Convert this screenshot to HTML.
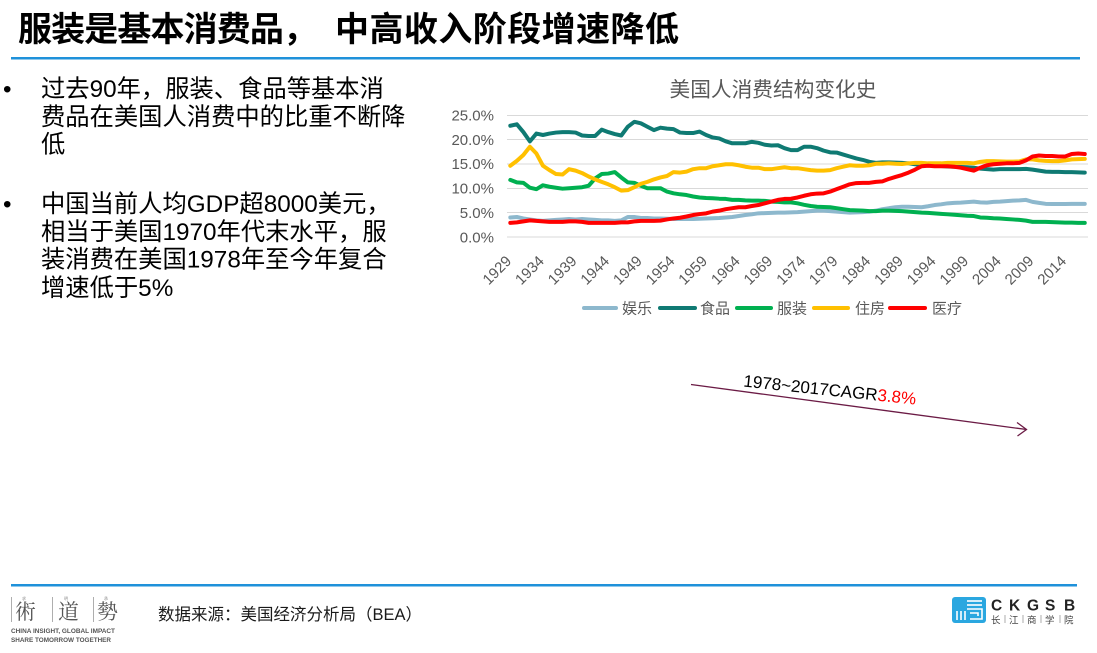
<!DOCTYPE html>
<html>
<head>
<meta charset="utf-8">
<style>
html,body{margin:0;padding:0;background:#fff;}
body{width:1097px;height:653px;overflow:hidden;}
svg{display:block;}
.t{font-family:"Liberation Sans","Noto Sans CJK SC",sans-serif;}
</style>
</head>
<body>
<svg width="1097" height="653" viewBox="0 0 1097 653" xmlns="http://www.w3.org/2000/svg">
  <!-- Title -->
  <text class="t" font-weight="bold" font-size="34" fill="#000" y="41">
    <tspan x="18" textLength="299" lengthAdjust="spacing">服装是基本消费品，</tspan><tspan x="335" textLength="344" lengthAdjust="spacing">中高收入阶段增速降低</tspan>
  </text>
  <rect x="11" y="57" width="1069" height="2.5" fill="#1F91DA"/>

  <!-- Bullets -->
  <g class="t" font-size="24.3" fill="#000">
    <text x="3" y="97">•</text>
    <text x="41" y="97">过去90年，服装、食品等基本消</text>
    <text x="41" y="125">费品在美国人消费中的比重不断降</text>
    <text x="41" y="152.5">低</text>
    <text x="3" y="212">•</text>
    <text x="41" y="212">中国当前人均GDP超8000美元，</text>
    <text x="41" y="240">相当于美国1970年代末水平，服</text>
    <text x="41" y="267.5">装消费在美国1978年至今年复合</text>
    <text x="41" y="296">增速低于5%</text>
  </g>

  <!-- Chart title -->
  <text class="t" x="773" y="96.5" font-size="20.7" fill="#595959" text-anchor="middle">美国人消费结构变化史</text>

  <!-- Gridlines -->
  <g stroke="#D9D9D9" stroke-width="1">
    <line x1="507" x2="1088" y1="115.5" y2="115.5"/>
    <line x1="507" x2="1088" y1="139.5" y2="139.5"/>
    <line x1="507" x2="1088" y1="164" y2="164"/>
    <line x1="507" x2="1088" y1="188.5" y2="188.5"/>
    <line x1="507" x2="1088" y1="212.5" y2="212.5"/>
    <line x1="507" x2="1088" y1="237" y2="237"/>
  </g>

  <!-- Y labels -->
  <g class="t" font-size="15" fill="#595959" text-anchor="end">
    <text x="494" y="120.5">25.0%</text>
    <text x="494" y="144.8">20.0%</text>
    <text x="494" y="169.2">15.0%</text>
    <text x="494" y="193.6">10.0%</text>
    <text x="494" y="218">5.0%</text>
    <text x="494" y="242.4">0.0%</text>
  </g>

  <!-- X labels -->
  <g class="t" font-size="15" fill="#595959" text-anchor="end">
    <text transform="translate(512.3,262) rotate(-45)">1929</text>
    <text transform="translate(544.9,262) rotate(-45)">1934</text>
    <text transform="translate(577.6,262) rotate(-45)">1939</text>
    <text transform="translate(610.2,262) rotate(-45)">1944</text>
    <text transform="translate(642.9,262) rotate(-45)">1949</text>
    <text transform="translate(675.5,262) rotate(-45)">1954</text>
    <text transform="translate(708.1,262) rotate(-45)">1959</text>
    <text transform="translate(740.8,262) rotate(-45)">1964</text>
    <text transform="translate(773.4,262) rotate(-45)">1969</text>
    <text transform="translate(806.1,262) rotate(-45)">1974</text>
    <text transform="translate(838.7,262) rotate(-45)">1979</text>
    <text transform="translate(871.3,262) rotate(-45)">1984</text>
    <text transform="translate(904.0,262) rotate(-45)">1989</text>
    <text transform="translate(936.6,262) rotate(-45)">1994</text>
    <text transform="translate(969.3,262) rotate(-45)">1999</text>
    <text transform="translate(1001.9,262) rotate(-45)">2004</text>
    <text transform="translate(1034.5,262) rotate(-45)">2009</text>
    <text transform="translate(1067.2,262) rotate(-45)">2014</text>
  </g>

  <!-- Series -->
  <g transform="matrix(6.528 0 0 -4.88 510.3 237)" fill="none" stroke-linejoin="round" stroke-linecap="round">
    <polyline vector-effect="non-scaling-stroke" stroke="#8DB8CD" stroke-width="4" points="0,4.0 1,4.1 2,3.8 3,3.6 4,3.4 5,3.3 6,3.4 7,3.5 8,3.6 9,3.7 10,3.6 11,3.7 12,3.6 13,3.5 14,3.4 15,3.4 16,3.3 17,3.4 18,4.1 19,4.1 20,3.9 21,3.9 22,3.8 23,3.8 24,3.75 25,3.7 26,3.7 27,3.7 28,3.7 29,3.75 30,3.8 31,3.85 32,3.9 33,4.0 34,4.1 35,4.3 36,4.5 37,4.65 38,4.85 39,4.9 40,4.95 41,5.0 42,5.0 43,5.05 44,5.1 45,5.2 46,5.3 47,5.4 48,5.4 49,5.3 50,5.2 51,5.1 52,5.0 53,5.05 54,5.1 55,5.2 56,5.4 57,5.7 58,5.9 59,6.1 60,6.2 61,6.2 62,6.15 63,6.1 64,6.3 65,6.55 66,6.7 67,6.9 68,7.0 69,7.05 70,7.15 71,7.25 72,7.1 73,7.05 74,7.2 75,7.25 76,7.35 77,7.45 78,7.5 79,7.6 80,7.2 81,7.0 82,6.8 83,6.75 84,6.75 85,6.75 86,6.8 87,6.8 88,6.8"/>
    <polyline vector-effect="non-scaling-stroke" stroke="#0F7A73" stroke-width="4" points="0,22.8 1,23.1 2,21.5 3,19.6 4,21.2 5,20.9 6,21.2 7,21.4 8,21.5 9,21.5 10,21.4 11,20.8 12,20.7 13,20.7 14,22.0 15,21.5 16,21.1 17,20.8 18,22.6 19,23.6 20,23.3 21,22.6 22,21.9 23,22.4 24,22.2 25,22.1 26,21.4 27,21.3 28,21.3 29,21.6 30,20.9 31,20.4 32,20.2 33,19.6 34,19.2 35,19.2 36,19.2 37,19.5 38,19.3 39,18.9 40,18.75 41,18.8 42,18.2 43,17.8 44,17.8 45,18.5 46,18.5 47,18.2 48,17.7 49,17.35 50,17.3 51,16.9 52,16.5 53,16.1 54,15.8 55,15.4 56,15.2 57,15.3 58,15.3 59,15.25 60,15.2 61,15.1 62,14.9 63,14.75 64,14.7 65,14.6 66,14.55 67,14.45 68,14.4 69,14.35 70,14.3 71,14.2 72,14.0 73,13.9 74,13.8 75,13.9 76,13.9 77,13.9 78,13.9 79,13.95 80,13.8 81,13.6 82,13.4 83,13.35 84,13.35 85,13.3 86,13.3 87,13.25 88,13.2"/>
    <polyline vector-effect="non-scaling-stroke" stroke="#00B050" stroke-width="4" points="0,11.7 1,11.2 2,11.1 3,10.1 4,9.8 5,10.6 6,10.3 7,10.1 8,9.9 9,10.0 10,10.1 11,10.2 12,10.5 13,12.0 14,12.9 15,13.0 16,13.3 17,12.2 18,11.2 19,11.1 20,10.5 21,10.0 22,10.0 23,10.0 24,9.3 25,8.95 26,8.75 27,8.6 28,8.3 29,8.1 30,8.0 31,7.95 32,7.85 33,7.8 34,7.6 35,7.6 36,7.5 37,7.45 38,7.45 39,7.4 40,7.25 41,7.2 42,7.1 43,7.1 44,6.9 45,6.6 46,6.35 47,6.2 48,6.15 49,6.1 50,5.9 51,5.7 52,5.5 53,5.45 54,5.4 55,5.3 56,5.3 57,5.4 58,5.4 59,5.35 60,5.3 61,5.2 62,5.1 63,5.0 64,4.95 65,4.85 66,4.75 67,4.65 68,4.55 69,4.45 70,4.35 71,4.3 72,4.0 73,3.95 74,3.85 75,3.8 76,3.7 77,3.6 78,3.5 79,3.35 80,3.1 81,3.1 82,3.1 83,3.05 84,3.0 85,2.95 86,2.95 87,2.9 88,2.9"/>
    <polyline vector-effect="non-scaling-stroke" stroke="#FFC000" stroke-width="4" points="0,14.6 1,15.6 2,16.8 3,18.5 4,17.1 5,14.6 6,13.7 7,12.9 8,12.8 9,13.9 10,13.6 11,13.1 12,12.4 13,11.8 14,11.3 15,10.8 16,10.2 17,9.5 18,9.6 19,10.2 20,10.9 21,11.3 22,11.8 23,12.2 24,12.5 25,13.3 26,13.2 27,13.4 28,13.9 29,14.1 30,14.1 31,14.5 32,14.7 33,14.9 34,14.9 35,14.7 36,14.4 37,14.2 38,14.2 39,13.9 40,13.9 41,14.1 42,14.3 43,14.1 44,14.1 45,13.9 46,13.7 47,13.6 48,13.6 49,13.7 50,14.1 51,14.4 52,14.7 53,14.6 54,14.6 55,14.7 56,15.0 57,15.0 58,15.1 59,15.0 60,14.95 61,15.1 62,15.2 63,15.2 64,15.1 65,15.1 66,15.1 67,15.2 68,15.2 69,15.2 70,15.2 71,15.1 72,15.4 73,15.55 74,15.55 75,15.5 76,15.45 77,15.45 78,15.5 79,15.9 80,15.9 81,15.7 82,15.6 83,15.55 84,15.55 85,15.7 86,15.9 87,15.95 88,16.0"/>
    <polyline vector-effect="non-scaling-stroke" stroke="#FF0000" stroke-width="4" points="0,2.9 1,3.0 2,3.2 3,3.4 4,3.3 5,3.2 6,3.1 7,3.1 8,3.1 9,3.2 10,3.2 11,3.1 12,2.9 13,2.9 14,2.9 15,2.9 16,2.9 17,3.0 18,3.0 19,3.2 20,3.3 21,3.3 22,3.3 23,3.35 24,3.6 25,3.8 26,3.95 27,4.2 28,4.5 29,4.7 30,4.85 31,5.2 32,5.4 33,5.7 34,5.9 35,6.1 36,6.1 37,6.35 38,6.55 39,6.9 40,7.25 41,7.6 42,7.8 43,7.85 44,8.1 45,8.45 46,8.75 47,8.9 48,8.95 49,9.3 50,9.8 51,10.3 52,10.8 53,11.05 54,11.1 55,11.1 56,11.3 57,11.4 58,11.9 59,12.3 60,12.7 61,13.2 62,13.8 63,14.5 64,14.6 65,14.5 66,14.5 67,14.5 68,14.4 69,14.2 70,13.9 71,13.6 72,14.2 73,14.7 74,14.9 75,15.0 76,15.1 77,15.1 78,15.2 79,15.7 80,16.5 81,16.7 82,16.6 83,16.6 84,16.5 85,16.5 86,17.0 87,17.1 88,17.0"/>
  </g>

  <!-- Legend -->
  <g stroke-width="4" stroke-linecap="round">
    <line x1="584" x2="616" y1="308" y2="308" stroke="#8DB8CD"/>
    <line x1="660" x2="695" y1="308" y2="308" stroke="#0F7A73"/>
    <line x1="737" x2="771" y1="308" y2="308" stroke="#00B050"/>
    <line x1="814" x2="848" y1="308" y2="308" stroke="#FFC000"/>
    <line x1="890" x2="925" y1="308" y2="308" stroke="#FF0000"/>
  </g>
  <g class="t" font-size="15" fill="#595959">
    <text x="622" y="313.5">娱乐</text>
    <text x="700" y="313.5">食品</text>
    <text x="777" y="313.5">服装</text>
    <text x="855" y="313.5">住房</text>
    <text x="932" y="313.5">医疗</text>
  </g>

  <!-- CAGR arrow -->
  <g stroke="#6B1B45" stroke-width="1.3" fill="none">
    <line x1="691" y1="384.5" x2="1026.5" y2="429.5"/>
    <polyline points="1017,422.5 1026.5,429.5 1017.5,436"/>
  </g>
  <text class="t" font-size="17" fill="#000" transform="translate(743,386.5) rotate(6)">1978~2017CAGR<tspan fill="#FF0000">3.8%</tspan></text>

  <!-- Footer line -->
  <rect x="11" y="584" width="1066" height="2.5" fill="#1F91DA"/>

  <!-- Footer source -->
  <text class="t" x="158" y="620" font-size="16.5" fill="#1a1a1a">数据来源：美国经济分析局（BEA）</text>

  <!-- Left logo -->
  <g stroke="#9a9a9a" stroke-width="0.8">
    <line x1="11.5" y1="597" x2="11.5" y2="622"/>
    <line x1="52.5" y1="597" x2="52.5" y2="622"/>
    <line x1="93.5" y1="597" x2="93.5" y2="622"/>
  </g>
  <g font-family="'Noto Serif CJK SC','Noto Sans CJK SC',serif" font-size="21" fill="#555">
    <text x="15" y="619">術</text>
    <text x="58" y="619">道</text>
    <text x="97" y="619">勢</text>
  </g>
  <g font-family="'Noto Sans CJK SC',sans-serif" font-size="4" fill="#888">
    <text x="22" y="600">求</text>
    <text x="64" y="600">明</text>
    <text x="104" y="600">承</text>
  </g>
  <g class="t" font-size="6.3" font-weight="bold" fill="#555">
    <text x="11" y="633" textLength="104" lengthAdjust="spacingAndGlyphs">CHINA INSIGHT, GLOBAL IMPACT</text>
    <text x="11" y="642" textLength="100" lengthAdjust="spacingAndGlyphs">SHARE TOMORROW TOGETHER</text>
  </g>

  <!-- Right logo -->
  <rect x="952" y="597" width="34" height="26" rx="3" fill="#2AA7E0"/>
  <g stroke="#fff" stroke-width="1.6" fill="none">
    <line x1="967" y1="601" x2="982" y2="601"/>
    <line x1="967" y1="605" x2="982" y2="605"/>
    <polyline points="967,609 982,609 982,619 970,619"/>
    <polyline points="970,613 978,613 978,616"/>
    <line x1="957" y1="611" x2="957" y2="620"/>
    <line x1="961" y1="611" x2="961" y2="620"/>
    <line x1="965" y1="611" x2="965" y2="620"/>
  </g>
  <g class="t" font-size="15.5" font-weight="bold" fill="#222">
    <text x="991" y="610.5">C</text>
    <text x="1009" y="610.5">K</text>
    <text x="1027" y="610.5">G</text>
    <text x="1045" y="610.5">S</text>
    <text x="1064" y="610.5">B</text>
  </g>
  <g font-family="'Noto Sans CJK SC',sans-serif" font-size="9.5" fill="#444">
    <text x="991" y="623.5">长</text>
    <text x="1009" y="623.5">江</text>
    <text x="1027" y="623.5">商</text>
    <text x="1045" y="623.5">学</text>
    <text x="1064" y="623.5">院</text>
  </g>
  <g stroke="#888" stroke-width="0.7">
    <line x1="1005" y1="615" x2="1005" y2="623"/>
    <line x1="1023" y1="615" x2="1023" y2="623"/>
    <line x1="1041" y1="615" x2="1041" y2="623"/>
    <line x1="1060" y1="615" x2="1060" y2="623"/>
  </g>
</svg>
</body>
</html>
